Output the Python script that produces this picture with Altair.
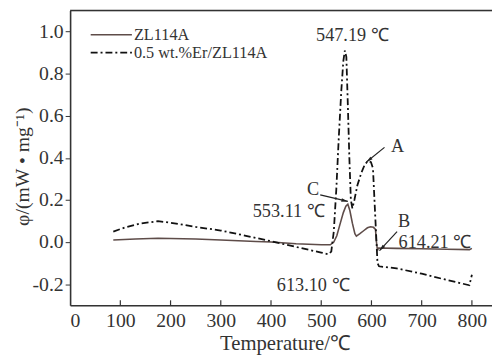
import math
import altair as alt
import pandas as pd

# ---- data ----
T_base = [86, 130, 175, 250, 300, 370, 400, 450, 500, 518, 525, 531, 538, 544, 549, 553, 557, 562, 567, 570,
          577, 585, 592, 598, 604, 608, 610, 612, 614, 650, 700, 750, 795, 800]
phi_base = [0.010, 0.015, 0.018, 0.015, 0.010, 0.003, 0.000, -0.008, -0.013, -0.013, 0.000, 0.030, 0.090, 0.140,
            0.170, 0.180, 0.150, 0.090, 0.040, 0.028, 0.040, 0.055, 0.068, 0.073, 0.070, 0.060, 0.000, -0.040,
            -0.028, -0.030, -0.032, -0.034, -0.036, -0.030]

T_er = [86, 110, 140, 175, 200, 250, 300, 350, 400, 450, 500, 514, 520, 525, 530, 535, 540, 544, 547, 550,
        553, 556, 559, 562, 566, 572, 580, 587, 593, 599, 603, 606, 609, 612, 615, 650, 700, 750, 795, 800]
phi_er = [0.050, 0.070, 0.088, 0.099, 0.092, 0.072, 0.055, 0.030, 0.004, -0.023, -0.050, -0.058, -0.045, 0.050,
          0.250, 0.500, 0.720, 0.860, 0.910, 0.880, 0.650, 0.400, 0.200, 0.160, 0.200, 0.270, 0.330, 0.370,
          0.385, 0.380, 0.350, 0.200, 0.050, -0.100, -0.115, -0.125, -0.150, -0.180, -0.205, -0.155]

series_names = ["ZL114A", "0.5 wt.%Er/ZL114A"]
legend_T = [41, 123]
legend_phi = [0.985, 0.900]
legend_text_T = 127

x_ticks = [0, 100, 200, 300, 400, 500, 600, 700, 800]
y_ticks = [-0.2, 0.0, 0.2, 0.4, 0.6, 0.8, 1.0]

ann_text = ["547.19 ℃", "A", "C", "553.11 ℃", "B", "614.21 ℃", "613.10 ℃"]
ann_T = [562, 652, 484, 507, 665, 654, 484]
ann_phi = [0.983, 0.458, 0.250, 0.146, 0.102, 0.000, -0.205]
ann_align = ["center", "center", "center", "right", "center", "left", "center"]

arrow_from_T = [626, 498, 651]
arrow_from_phi = [0.450, 0.224, 0.050]
arrow_to_T = [590, 553, 616]
arrow_to_phi = [0.380, 0.193, -0.041]

# ---- layout ----
W, H = 428, 299
XMAX, YMIN, YMAX = 840, -0.3, 1.1
FONT = "Times New Roman, Liberation Serif, serif"
TXT = "#333333"
BASE_COL = "#5e4c49"
ER_COL = "#111111"

xs = alt.Scale(domain=[0, XMAX], nice=False, zero=False)
ys = alt.Scale(domain=[YMIN, YMAX], nice=False, zero=False)

df_base = pd.DataFrame({"T": T_base, "phi": phi_base})
df_er = pd.DataFrame({"T": T_er, "phi": phi_er})

x_axis = alt.Axis(title="Temperature/℃", values=x_ticks, tickSize=0, labelPadding=6, grid=False,
                  domainColor="#333333", domainWidth=1.6, labelFont=FONT, labelFontSize=20, labelColor=TXT,
                  titleFont=FONT, titleFontSize=21, titleFontWeight="normal", titleColor=TXT, titlePadding=2,
                  titleX=218)
y_axis = alt.Axis(title="φ/(mW • mg⁻¹)", values=y_ticks, tickSize=5, tickColor="#333333", labelPadding=2,
                  grid=False, domainColor="#333333", domainWidth=1.6,
                  labelExpr="replace(format(datum.value, '.1f'), '\u2212', '-')",
                  labelFont=FONT, labelFontSize=20, labelColor=TXT,
                  titleFont=FONT, titleFontSize=20, titleFontWeight="normal", titleColor=TXT,
                  titleX=-38, titleY=158)

X = alt.X("T:Q", scale=xs)
Y = alt.Y("phi:Q", scale=ys)

base_line = alt.Chart(df_base).mark_line(color=BASE_COL, strokeWidth=1.6).encode(
    x=alt.X("T:Q", scale=xs, axis=x_axis),
    y=alt.Y("phi:Q", scale=ys, axis=y_axis),
)
er_line = alt.Chart(df_er).mark_line(color=ER_COL, strokeWidth=1.8, strokeDash=[7, 3, 2, 3]).encode(x=X, y=Y)

# legend (drawn by hand, top-left inside the frame)
leg_base = alt.Chart(pd.DataFrame({"T": [legend_T[0]], "T2": [legend_T[1]], "phi": [legend_phi[0]]})).mark_rule(
    color=BASE_COL, strokeWidth=1.6).encode(x=X, x2="T2:Q", y=Y)
leg_er = alt.Chart(pd.DataFrame({"T": [legend_T[0]], "T2": [legend_T[1]], "phi": [legend_phi[1]]})).mark_rule(
    color=ER_COL, strokeWidth=1.8, strokeDash=[7, 3, 2, 3]).encode(x=X, x2="T2:Q", y=Y)
leg_txt = alt.Chart(pd.DataFrame({"T": [legend_text_T] * 2, "phi": legend_phi, "label": series_names})).mark_text(
    align="left", baseline="middle", font=FONT, fontSize=16.5, color=TXT).encode(x=X, y=Y, text="label:N")

# annotations
df_ann = pd.DataFrame({"T": ann_T, "phi": ann_phi, "label": ann_text, "align": ann_align})
ann_layers = []
for al in ["left", "center", "right"]:
    ann_layers.append(
        alt.Chart(df_ann[df_ann["align"] == al]).mark_text(
            align=al, baseline="middle", font=FONT, fontSize=18.5, color=TXT).encode(x=X, y=Y, text="label:N"))

pxT = W / XMAX
pxP = H / (YMAX - YMIN)
angles = []
for fT, fP, tT, tP in zip(arrow_from_T, arrow_from_phi, arrow_to_T, arrow_to_phi):
    dx = (tT - fT) * pxT
    dy = -(tP - fP) * pxP
    angles.append(math.degrees(math.atan2(dx, -dy)) % 360)

df_arr = pd.DataFrame({"T": arrow_from_T, "phi": arrow_from_phi, "T2": arrow_to_T, "phi2": arrow_to_phi})
arr_shaft = alt.Chart(df_arr).mark_rule(color="#222222", strokeWidth=1.2).encode(
    x=X, y=Y, x2="T2:Q", y2="phi2:Q")
df_head = pd.DataFrame({"T": arrow_to_T, "phi": arrow_to_phi, "ang": angles})
arr_head = alt.Chart(df_head).mark_point(
    shape="M0,0L0.45,1.7L-0.45,1.7Z", filled=True, color="#222222", opacity=1, size=60).encode(
    x=X, y=Y, angle=alt.Angle("ang:Q", scale=None))

# inward x ticks and top border
ticks_in = alt.Chart(pd.DataFrame({"T": x_ticks[1:]})).mark_rule(color="#333333", strokeWidth=1.2).encode(
    x=X, y=alt.value(H), y2=alt.value(H - 5))
top_border = alt.Chart(pd.DataFrame({"T": [0]})).mark_rule(color="#333333", strokeWidth=1.6).encode(
    x=alt.value(0), x2=alt.value(W), y=alt.value(0))

chart = alt.layer(
    base_line, er_line, leg_base, leg_er, leg_txt, *ann_layers, arr_shaft, arr_head, ticks_in, top_border
).properties(
    width=W, height=H,
    autosize=alt.AutoSizeParams(type="none"),
    padding={"left": 63, "top": 0, "right": 0, "bottom": 52},
).configure_view(stroke=None).configure(background="white")

chart.save("out.html", embed_options={"renderer": "svg", "actions": False})
